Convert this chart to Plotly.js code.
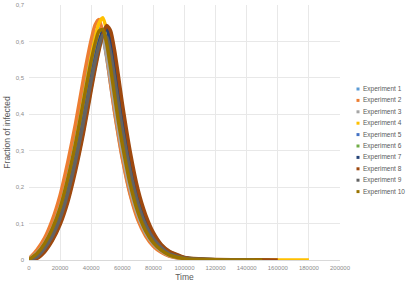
<!DOCTYPE html>
<html>
<head>
<meta charset="utf-8">
<script src="https://cdn.plot.ly/plotly-3.0.1.min.js"></script>
<style>html,body{margin:0;padding:0;background:#fff;}#chart{width:408px;height:284px;}</style>
</head>
<body>
<div id="chart"></div>
<script>
// ---- data ----
const time = [0,5000,10000,15000,20000,25000,30000,35000,40000,42500,45000,47500,50000,52500,55000,57500,60000,65000,70000,75000,80000,85000,90000,100000,110000,120000,140000];
const seriesNames = ['Experiment 1','Experiment 2','Experiment 3','Experiment 4','Experiment 5','Experiment 6','Experiment 7','Experiment 8','Experiment 9','Experiment 10'];
const tailEnd = [145000,150000,150000,180000,150000,155000,150000,160000,145000,150000];

const exp1  = [0.003,0.024,0.055,0.101,0.165,0.252,0.354,0.471,0.576,0.618,0.637,0.613,0.555,0.483,0.409,0.343,0.283,0.184,0.116,0.070,0.041,0.023,0.012,0.003,0.001,0.0004,0];
const exp2  = [0.003,0.027,0.060,0.110,0.178,0.270,0.376,0.497,0.604,0.645,0.660,0.624,0.558,0.482,0.406,0.340,0.279,0.180,0.110,0.066,0.038,0.021,0.011,0.003,0.001,0.0004,0];
const exp3  = [0.002,0.019,0.047,0.088,0.146,0.226,0.321,0.433,0.539,0.583,0.612,0.607,0.562,0.496,0.425,0.357,0.297,0.195,0.123,0.074,0.044,0.025,0.013,0.0035,0.0013,0.0004,0];
const exp4  = [0,0.015,0.043,0.084,0.141,0.223,0.322,0.440,0.558,0.609,0.650,0.665,0.629,0.563,0.486,0.409,0.343,0.227,0.143,0.087,0.051,0.029,0.015,0.004,0.0015,0.0005,0.0002];
const exp5  = [0,0.011,0.035,0.071,0.122,0.194,0.286,0.393,0.507,0.557,0.600,0.624,0.610,0.558,0.489,0.417,0.350,0.235,0.150,0.093,0.055,0.032,0.017,0.005,0.0017,0.0006,0];
const exp6  = [0,0.005,0.025,0.056,0.102,0.167,0.254,0.356,0.474,0.530,0.580,0.622,0.642,0.617,0.558,0.486,0.412,0.285,0.186,0.117,0.070,0.041,0.023,0.0065,0.0025,0.0009,0.0002];
const exp7  = [0,0.008,0.030,0.063,0.112,0.181,0.271,0.376,0.493,0.547,0.594,0.628,0.633,0.593,0.527,0.453,0.381,0.261,0.167,0.105,0.063,0.036,0.020,0.0055,0.002,0.0008,0.0001];
const exp8  = [0,0.004,0.022,0.053,0.097,0.160,0.246,0.348,0.466,0.523,0.575,0.619,0.644,0.629,0.576,0.505,0.430,0.299,0.195,0.124,0.075,0.043,0.025,0.007,0.003,0.0012,0.0004];
const exp9  = [0,0.009,0.032,0.066,0.115,0.185,0.274,0.379,0.493,0.544,0.588,0.617,0.612,0.567,0.500,0.428,0.360,0.244,0.156,0.096,0.058,0.034,0.018,0.005,0.0018,0.0006,0];
const exp10 = [0.001,0.017,0.045,0.086,0.143,0.224,0.321,0.435,0.547,0.594,0.628,0.633,0.593,0.527,0.453,0.381,0.318,0.210,0.132,0.080,0.047,0.027,0.014,0.0038,0.0014,0.0005,0];

const yTickVals = [0,0.1,0.2,0.3,0.4,0.5,0.6,0.7];
const yTickText = ['0','0,1','0,2','0,3','0,4','0,5','0,6','0,7'];
const xTickVals = [0,20000,40000,60000,80000,100000,120000,140000,160000,180000,200000];
const xTickText = ['0','20000','40000','60000','80000','100000','120000','140000','160000','180000','200000'];

// ---- styles ----
const colors = ['#5B9BD5','#ED7D31','#A5A5A5','#FFC000','#4472C4','#70AD47','#264478','#9E480E','#636363','#997300'];
const allSeries = [exp1,exp2,exp3,exp4,exp5,exp6,exp7,exp8,exp9,exp10];

const W = 408, H = 284;
const M = {l:29, r:68, t:5, b:24};
const plotW = W - M.l - M.r, plotH = H - M.t - M.b;
const pxX = px => (px - M.l) / plotW;
const pxY = py => (H - M.b - py) / plotH;

const traces = allSeries.map((ys, i) => ({
  type: 'scatter',
  mode: 'lines',
  name: seriesNames[i],
  x: time.concat([tailEnd[i]]),
  y: ys.concat([0]),
  line: {color: colors[i], width: 3.5, shape: 'spline', smoothing: 0.6},
  showlegend: false,
  hoverinfo: 'skip'
}));

const annotations = [];
const shapes = [];
seriesNames.forEach((n, i) => {
  const yPx = 89 + i * 11.4;
  annotations.push({
    xref: 'paper', yref: 'paper', x: pxX(361), y: pxY(yPx),
    xanchor: 'left', yanchor: 'middle', showarrow: false,
    text: n, font: {family: 'Liberation Sans, Arial, sans-serif', size: 6.5, color: '#595959'}
  });
  shapes.push({
    type: 'rect', xref: 'paper', yref: 'paper',
    x0: pxX(356.5), x1: pxX(359.5), y0: pxY(yPx + 1.5), y1: pxY(yPx - 1.5),
    fillcolor: colors[i], line: {width: 0}
  });
});

const tickFont = {family: 'Liberation Sans, Arial, sans-serif', size: 6, color: '#8C8C8C'};
const layout = {
  width: W, height: H,
  margin: M,
  paper_bgcolor: '#ffffff', plot_bgcolor: '#ffffff',
  showlegend: false,
  xaxis: {
    range: [0, 200000], tickvals: xTickVals, ticktext: xTickText,
    showgrid: true, gridcolor: '#E8E8E8', gridwidth: 1, zeroline: false,
    showline: true, linecolor: '#D9D9D9', linewidth: 1,
    ticks: '', tickfont: tickFont, ticklabelstandoff: 2,
    title: {text: 'Time', font: {family: 'Liberation Sans, Arial, sans-serif', size: 8.5, color: '#595959'}, standoff: 3}
  },
  yaxis: {
    range: [0, 0.7], tickvals: yTickVals, ticktext: yTickText,
    showgrid: true, gridcolor: '#E8E8E8', gridwidth: 1, zeroline: false,
    showline: false, ticks: '', tickfont: tickFont, ticklabelstandoff: 4,
    title: {text: 'Fraction of infected', font: {family: 'Liberation Sans, Arial, sans-serif', size: 8.5, color: '#595959'}, standoff: 3}
  },
  annotations: annotations,
  shapes: shapes
};

Plotly.newPlot('chart', traces, layout, {staticPlot: true, displayModeBar: false});
</script>
</body>
</html>
